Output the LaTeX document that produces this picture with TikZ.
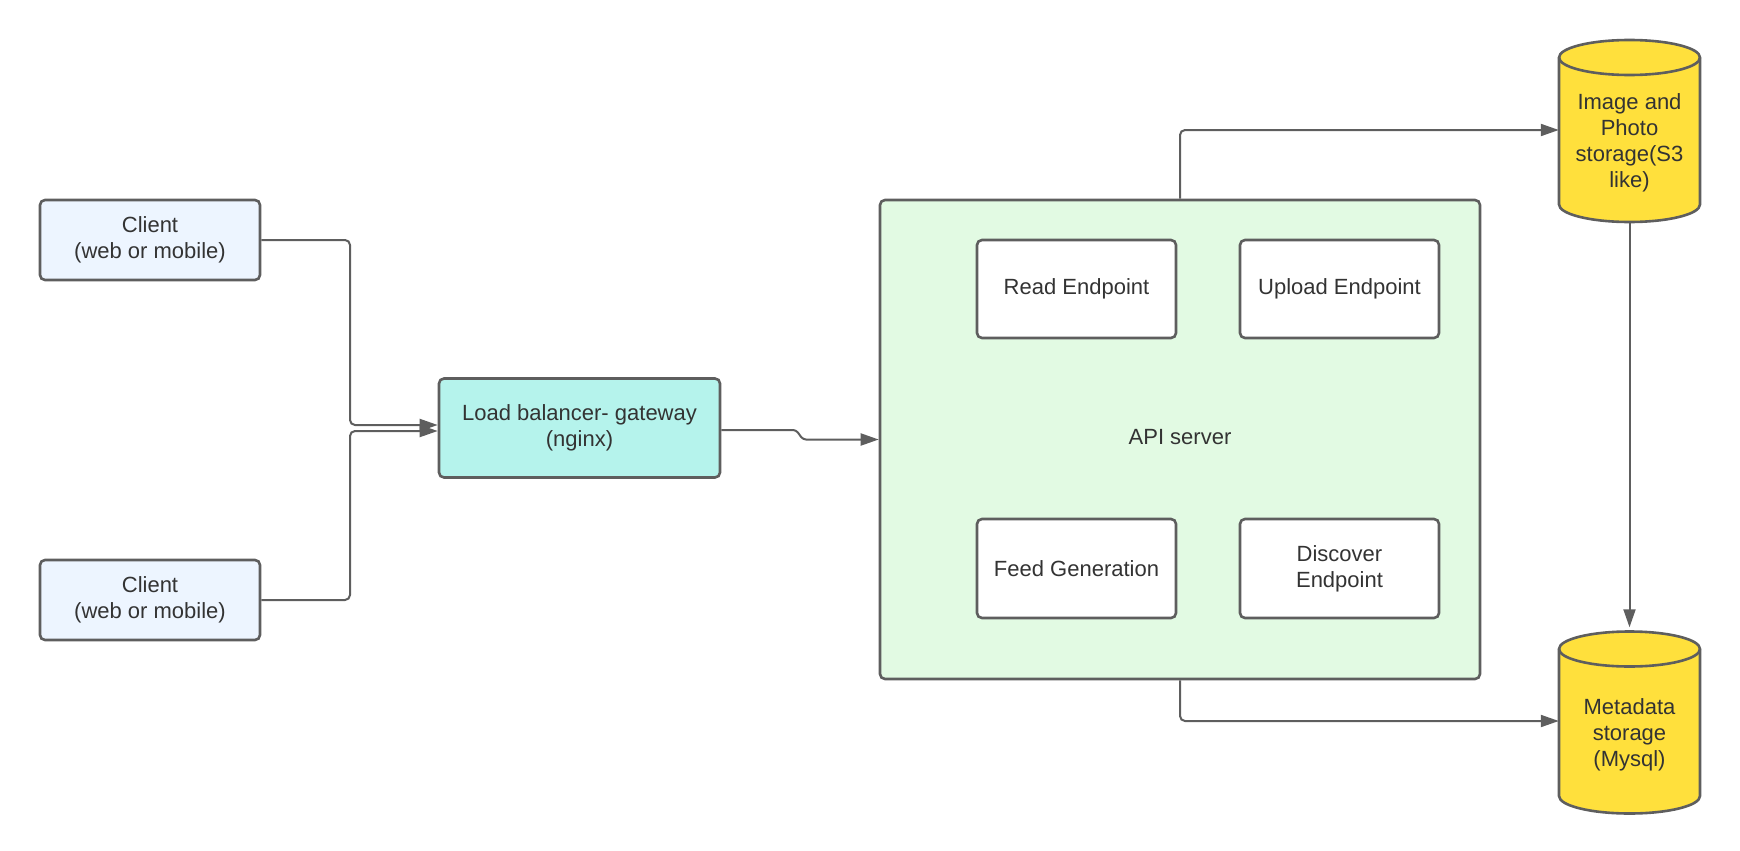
\documentclass[tikz,border=0pt]{standalone}
\usepackage{fontspec}
\setmainfont{Liberation Sans}
\usetikzlibrary{arrows.meta,calc}
\definecolor{strk}{HTML}{5E5E5E}
\definecolor{txt}{HTML}{333333}
\definecolor{clientfill}{HTML}{EDF5FF}
\definecolor{lbfill}{HTML}{B5F3EC}
\definecolor{apifill}{HTML}{E2FAE3}
\definecolor{dbfill}{HTML}{FFE03C}
\begin{document}
\begin{tikzpicture}[x=1pt,y=-1pt,
  box/.style={draw=strk,line width=2.6pt,rounded corners=5pt,align=center,text=txt,
    font=\fontsize{22}{26}\selectfont,inner sep=0pt},
  conn/.style={draw=strk,line width=2pt,rounded corners=5pt,-{Triangle[length=18pt,width=12pt]}},
  dbtext/.style={align=center,text=txt,font=\fontsize{22}{26}\selectfont,inner sep=0pt},
  dbframe/.style={inner sep=0pt,minimum width=141pt,minimum height=182pt}]
\useasboundingbox (0,0) rectangle (1740,851);
% clients
\node[box,fill=clientfill,minimum width=220pt,minimum height=80pt] (c1) at (150,240) {Client\\(web or mobile)};
\node[box,fill=clientfill,minimum width=220pt,minimum height=80pt] (c2) at (150,600) {Client\\(web or mobile)};
% load balancer
\node[box,fill=lbfill,minimum width=281pt,minimum height=99pt] (lb) at (579.5,428) {Load balancer- gateway\\(nginx)};
% API server
\node[box,fill=apifill,minimum width=600pt,minimum height=479pt] (api) at (1180,439.5) {};
\node[text=txt,font=\fontsize{22}{26}\selectfont] (apil) at (1180,437) {API server};
\node[box,fill=white,minimum width=199pt,minimum height=98pt] (read) at (1076.5,289) {Read Endpoint};
\node[box,fill=white,minimum width=199pt,minimum height=98pt] (up) at (1339.5,289) {Upload Endpoint};
\node[box,fill=white,minimum width=199pt,minimum height=99pt] (feed) at (1076.5,568.5) {Feed Generation};
\node[box,fill=white,minimum width=199pt,minimum height=99pt] (disc) at (1339.5,568.5) {Discover\\Endpoint};
% cylinders
\foreach \cy in {131,722.5}{
  \draw[draw=strk,line width=2.6pt,fill=dbfill]
    (1559,\cy-73.5) -- (1559,\cy+73.5) arc[start angle=180,end angle=0,x radius=70.5,y radius=17.5]
    -- (1700,\cy-73.5) arc[start angle=0,end angle=-180,x radius=70.5,y radius=17.5] -- cycle;
  \draw[draw=strk,line width=2.6pt]
    (1559,\cy-73.5) arc[start angle=180,end angle=0,x radius=70.5,y radius=17.5];
}
\node[dbframe] (s3) at (1629.5,131) {};
\node[dbframe] (meta) at (1629.5,722.5) {};
\node[dbtext] (s3t) at (1629.5,143) {Image and\\Photo\\storage(S3\\like)};
\node[dbtext] (metat) at (1629.5,735) {Metadata\\storage\\(Mysql)};
% connectors
\coordinate (j1) at (350,425);
\coordinate (j2) at (350,431);
\draw[conn] (c1.east) -| (j1) -- ([yshift=3pt]lb.west);
\draw[conn] (c2.east) -| (j2) -- ([yshift=-3pt]lb.west);
\coordinate (b1) at (796,430);
\coordinate (b2) at (803,439.5);
\draw[draw=strk,line width=2pt,rounded corners=3pt,-{Triangle[length=18pt,width=12pt]}]
  ([yshift=-2pt]lb.east) -- (b1) -- (b2) -- (api.west);
\draw[conn] (api.north) |- ([yshift=1pt]s3.west);
\draw[conn] (api.south) |- ([yshift=1.5pt]meta.west);
\draw[conn] (s3.south) -- ([yshift=4pt]meta.north);
\end{tikzpicture}
\end{document}
